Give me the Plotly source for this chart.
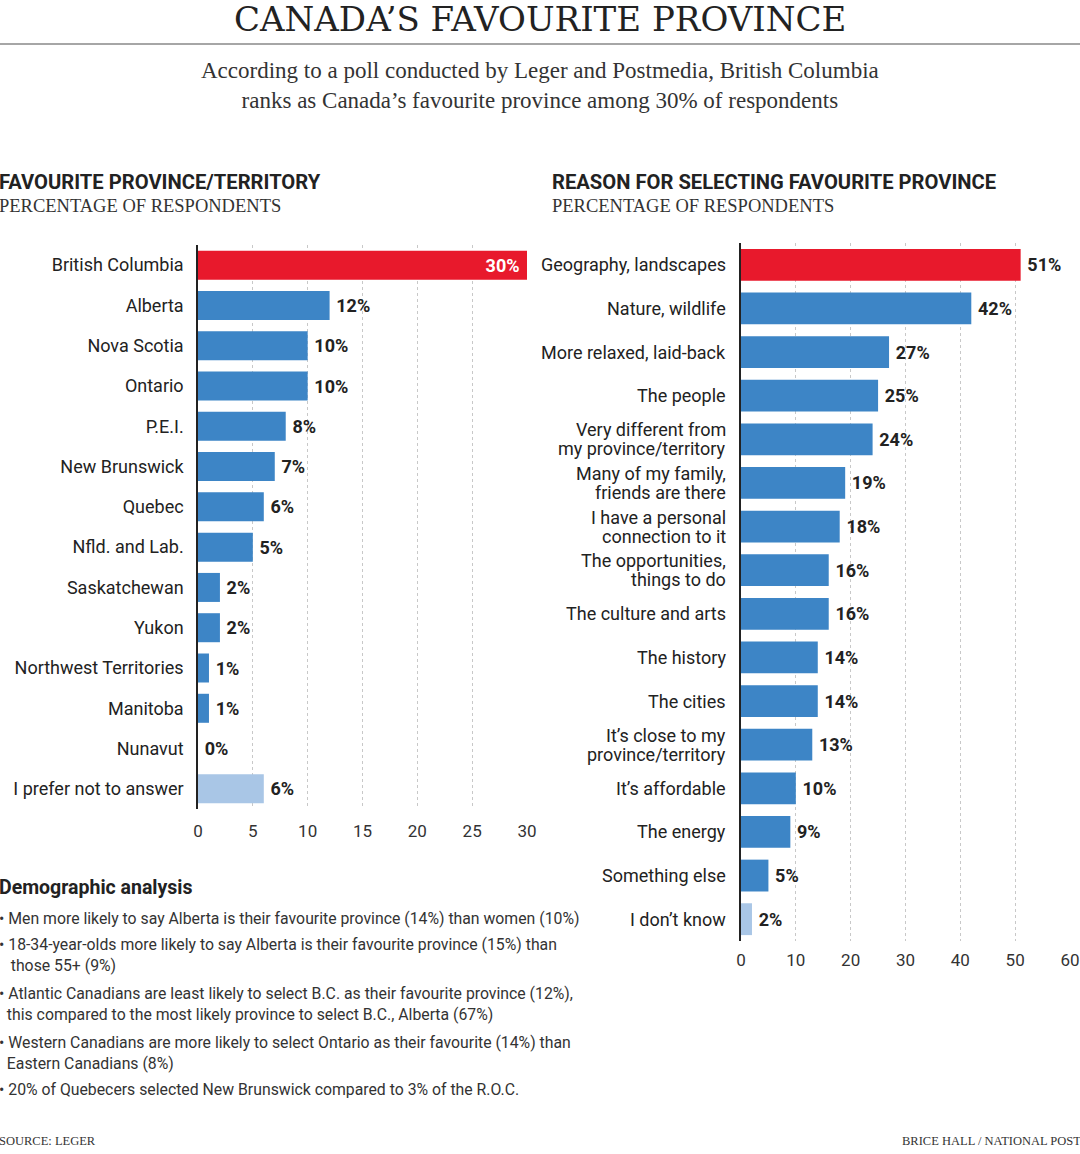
import plotly.graph_objects as go

# ---------------- data ----------------
provinces = ["British Columbia", "Alberta", "Nova Scotia", "Ontario", "P.E.I.",
             "New Brunswick", "Quebec", "Nfld. and Lab.", "Saskatchewan", "Yukon",
             "Northwest Territories", "Manitoba", "Nunavut", "I prefer not to answer"]
province_pct = [30, 12, 10, 10, 8, 7, 6, 5, 2, 2, 1, 1, 0, 6]

reasons = ["Geography, landscapes", "Nature, wildlife", "More relaxed, laid-back",
           "The people", "Very different from<br>my province/territory",
           "Many of my family,<br>friends are there", "I have a personal<br>connection to it",
           "The opportunities,<br>things to do", "The culture and arts", "The history",
           "The cities", "It\u2019s close to my<br>province/territory", "It\u2019s affordable",
           "The energy", "Something else", "I don\u2019t know"]
reason_pct = [51, 42, 27, 25, 24, 19, 18, 16, 16, 14, 14, 13, 10, 9, 5, 2]

left_ticks = [0, 5, 10, 15, 20, 25, 30]
right_ticks = [0, 10, 20, 30, 40, 50, 60]

bullets = [
    "\u2022 Men more likely to say Alberta is their favourite province (14%) than women (10%)",
    "\u2022 18-34-year-olds more likely to say Alberta is their favourite province (15%) than<br>\u00a0\u00a0\u00a0those 55+ (9%)",
    "\u2022 Atlantic Canadians are least likely to select B.C. as their favourite province (12%),<br>\u00a0\u00a0this compared to the most likely province to select B.C., Alberta (67%)",
    "\u2022 Western Canadians are more likely to select Ontario as their favourite (14%) than<br>\u00a0\u00a0Eastern Canadians (8%)",
    "\u2022 20% of Quebecers selected New Brunswick compared to 3% of the R.O.C.",
]

# ---------------- style ----------------
W, H = 1080, 1154
RED = "#e8192c"
BLUE = "#3d85c6"
LIGHT = "#a9c6e6"
INK = "#222222"
SANS = "Roboto, sans-serif"
SERIF = "Liberation Serif, DejaVu Serif, serif"


def py(px):
    return 1 - px / H


def pxx(px):
    return px / W


def colors_for(n):
    c = [BLUE] * n
    c[0] = RED
    c[-1] = LIGHT
    return c


left_text = [f"{v}%\u00a0" if i == 0 else f"\u2009{v}%" for i, v in enumerate(province_pct)]
left_pos = ["inside"] + ["outside"] * (len(province_pct) - 1)
right_text = [f"\u2009{v}%" for v in reason_pct]

fig = go.Figure()
fig.add_trace(go.Bar(
    x=province_pct, y=provinces, orientation="h",
    marker=dict(color=colors_for(len(provinces)), line=dict(width=0)),
    width=0.72,
    text=left_text, textposition=left_pos, insidetextanchor="end",
    insidetextfont=dict(family=SANS, size=18, color="white", weight="bold"),
    outsidetextfont=dict(family=SANS, size=18, color=INK, weight="bold"),
    constraintext="none", cliponaxis=False,
    xaxis="x", yaxis="y", hoverinfo="skip", showlegend=False,
))
fig.add_trace(go.Bar(
    x=reason_pct, y=reasons, orientation="h",
    marker=dict(color=colors_for(len(reasons)), line=dict(width=0)),
    width=0.73,
    text=right_text, textposition="outside",
    outsidetextfont=dict(family=SANS, size=18, color=INK, weight="bold"),
    constraintext="none", cliponaxis=False,
    xaxis="x2", yaxis="y2", hoverinfo="skip", showlegend=False,
))

xcommon = dict(showgrid=True, gridcolor="#c8c8c8", griddash="dot", gridwidth=1,
               zeroline=False, showline=False, ticks="", automargin=False,
               tickfont=dict(family=SANS, size=17, color="#333333"), fixedrange=True)
ycommon = dict(showgrid=False, zeroline=False, showline=True, linecolor=INK, linewidth=1.5,
               ticks="", automargin=False,
               tickfont=dict(family=SANS, size=18, color=INK), fixedrange=True)

fig.update_layout(
    width=W, height=H, autosize=False,
    margin=dict(l=0, r=0, t=0, b=0, pad=0),
    paper_bgcolor="white", plot_bgcolor="white",
    xaxis=dict(domain=[pxx(198), pxx(527)], range=[0, 30], tickvals=left_ticks,
               anchor="y", ticklabelstandoff=10, **xcommon),
    yaxis=dict(domain=[py(809), py(245)], range=[len(provinces) - 0.5, -0.5],
               categoryorder="array", categoryarray=provinces, anchor="x",
               ticklabelstandoff=9, **ycommon),
    xaxis2=dict(domain=[pxx(741), pxx(1070)], range=[0, 60], tickvals=right_ticks,
                anchor="y2", ticklabelstandoff=7, **xcommon),
    yaxis2=dict(domain=[py(941), py(243)], range=[len(reasons) - 0.5, -0.5],
                categoryorder="array", categoryarray=reasons, anchor="x2",
                showticklabels=False, **ycommon),
)

ann = []


def add_text(text, x, y, size, family, color=INK, xanchor="left", yanchor="middle",
             bold=False, align="left", yref="paper", yshift=0, xshift=0):
    ann.append(dict(text=text, x=x, y=y, xref="paper", yref=yref, xanchor=xanchor,
                    yanchor=yanchor, showarrow=False, align=align, yshift=yshift,
                    xshift=xshift, borderpad=0,
                    font=dict(family=family, size=size, color=color,
                              weight="bold" if bold else "normal")))


# right-chart category labels, one annotation per line for tight line spacing
for r in reasons:
    lines = r.split("<br>")
    n = len(lines)
    for k, line in enumerate(lines):
        shift = ((n - 1) / 2 - k) * 19
        add_text(line, pxx(727), r, 18, SANS, xanchor="right", yref="y2", yshift=shift)

add_text("CANADA\u2019S FAVOURITE PROVINCE", 0.5, py(19), 34, "DejaVu Serif, serif",
         color="#222222", xanchor="center")
add_text("According to a poll conducted by Leger and Postmedia, British Columbia<br>"
         "ranks as Canada\u2019s favourite province among 30% of respondents",
         0.5, py(85), 23, SERIF, color="#333333", xanchor="center", align="center")

add_text("FAVOURITE PROVINCE/TERRITORY", 0, py(182), 20.2, SANS, bold=True, xshift=-2)
add_text("PERCENTAGE OF RESPONDENTS", 0, py(206), 18.5, SERIF, color="#333333", xshift=-2)
add_text("REASON FOR SELECTING FAVOURITE PROVINCE", pxx(553), py(182), 20.2, SANS,
         bold=True, xshift=-2)
add_text("PERCENTAGE OF RESPONDENTS", pxx(553), py(206), 18.5, SERIF, color="#333333",
         xshift=-2)

add_text("Demographic analysis", 0, py(888), 19.5, SANS, bold=True, xshift=-2)
bullet_tops = [919, 945, 994, 1043, 1090]
for t, yc in zip(bullets, bullet_tops):
    add_text(t, 0, py(yc - 11), 15.8, SANS, color="#333333", yanchor="top", xshift=-2)

add_text("SOURCE: LEGER", 0, py(1141), 12.5, SERIF, color="#333333", xshift=-2)
add_text("BRICE HALL / NATIONAL POST", 1, py(1141), 12.5, SERIF, color="#333333",
         xanchor="right", xshift=2)

fig.update_layout(
    annotations=ann,
    shapes=[dict(type="line", xref="paper", yref="paper", x0=0, x1=1,
                 y0=py(44), y1=py(44), line=dict(color="#888888", width=1.5))],
)

fig.write_html("out.html", config={"displayModeBar": False, "responsive": False})

# remove default page margins so the figure sits at the window origin
with open("out.html", encoding="utf-8") as f:
    html = f.read()
html = html.replace("<head>", "<head><style>html,body{margin:0;padding:0;overflow:hidden;}</style>", 1)
with open("out.html", "w", encoding="utf-8") as f:
    f.write(html)
